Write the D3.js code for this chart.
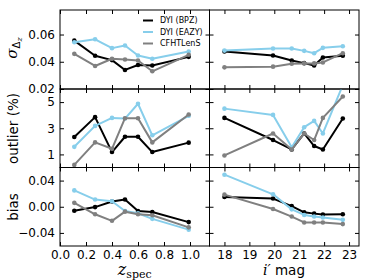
<!DOCTYPE html>
<html>
<head>
<meta charset="utf-8">
<script src="https://cdn.jsdelivr.net/npm/d3@7"></script>
<style>
  body { margin: 0; background: #fff; }
  text { font-family: "DejaVu Sans", sans-serif; }
</style>
</head>
<body>
<svg width="374" height="280"></svg>
<script>
// bin centres
const zspec = [0.11, 0.27, 0.40, 0.50, 0.60, 0.71, 0.99]
const imag = [18.0, 19.95, 20.7, 21.2, 21.6, 21.95, 22.75]

const seriesNames = ["DYI (BPZ)", "DYI (EAZY)", "CFHTLenS"]

// sigma_dz vs z_spec
const sigZBpz  = [0.0555, 0.0444, 0.0412, 0.0340, 0.0376, 0.0373, 0.0436]
const sigZEazy = [0.0543, 0.0565, 0.0500, 0.0519, 0.0446, 0.0422, 0.0475]
const sigZCfht = [0.0458, 0.0369, 0.0422, 0.0417, 0.0409, 0.0330, 0.0451]
// sigma_dz vs i' mag
const sigMBpz  = [0.0475, 0.0446, 0.0409, 0.0390, 0.0373, 0.0431, 0.0444]
const sigMEazy = [0.0482, 0.0497, 0.0497, 0.0480, 0.0463, 0.0502, 0.0514]
const sigMCfht = [0.0359, 0.0364, 0.0385, 0.0388, 0.0388, 0.0395, 0.0463]

// outlier fraction (%)
const outZBpz  = [2.33, 3.85, 1.18, 2.35, 2.35, 1.18, 1.90]
const outZEazy = [1.58, 3.18, 3.79, 3.74, 4.87, 2.46, 3.95]
const outZCfht = [0.20, 1.92, 1.43, 3.77, 3.77, 1.92, 4.05]
const outMBpz  = [3.79, 2.10, 1.38, 2.60, 1.64, 1.38, 3.74]
const outMEazy = [4.50, 4.02, 1.54, 3.08, 3.56, 2.60, 6.30]
const outMCfht = [0.92, 2.60, 1.38, 2.60, 2.10, 3.79, 5.43]

// bias
const biasZBpz  = [-0.0060, -0.0005, 0.0080, 0.0110, -0.0065, -0.0080, -0.0235]
const biasZEazy = [0.0250, 0.0110, 0.0085, -0.0065, -0.0100, -0.0185, -0.0350]
const biasZCfht = [0.0060, -0.0115, -0.0215, -0.0075, -0.0115, -0.0130, -0.0315]
const biasMBpz  = [0.0150, 0.0125, 0.0010, -0.0085, -0.0105, -0.0120, -0.0115]
const biasMEazy = [0.0490, 0.0190, -0.0040, -0.0125, -0.0150, -0.0165, -0.0200]
const biasMCfht = [0.0185, -0.0035, -0.0150, -0.0240, -0.0240, -0.0240, -0.0265]

// ticks
const zTicks = [0.0, 0.2, 0.4, 0.6, 0.8, 1.0]
const magTicks = [18, 19, 20, 21, 22, 23]
const sigTicks = [0.02, 0.04, 0.06]
const outTicks = [1, 3, 5]
const biasTicks = [-0.04, 0.00, 0.04]

const colors = ["#000000", "#87ceeb", "#808080"]

const svg = d3.select("svg")

const xL = d3.scaleLinear().domain([0, 1.15]).range([60, 209.5])
const xR = d3.scaleLinear().domain([17.4, 23.4]).range([209.5, 359])

const rows = [
  { y: d3.scaleLinear().domain([0.02, 0.078]).range([89, 10]), ticks: sigTicks, fmt: d3.format(".2f"),
    left: [sigZBpz, sigZEazy, sigZCfht], right: [sigMBpz, sigMEazy, sigMCfht] },
  { y: d3.scaleLinear().domain([0, 6]).range([167.5, 89]), ticks: outTicks, fmt: d3.format("d"),
    left: [outZBpz, outZEazy, outZCfht], right: [outMBpz, outMEazy, outMCfht] },
  { y: d3.scaleLinear().domain([-0.06, 0.06]).range([246, 167.5]), ticks: biasTicks, fmt: d3.format(".2f"),
    left: [biasZBpz, biasZEazy, biasZCfht], right: [biasMBpz, biasMEazy, biasMCfht] }
]

const cols = [
  { x: xL, xs: zspec, ticks: zTicks, fmt: d3.format(".1f"), key: "left" },
  { x: xR, xs: imag, ticks: magTicks, fmt: d3.format("d"), key: "right" }
]

function styleAxis(g) {
  g.select(".domain").remove()
  g.selectAll(".tick line").attr("stroke", "#000")
  g.selectAll(".tick text").attr("font-size", 12).attr("fill", "#000")
    .attr("font-family", "DejaVu Sans, sans-serif")
}

let clipId = 0
rows.forEach((row, ri) => {
  cols.forEach((col, ci) => {
    const [x0, x1] = col.x.range()
    const [y1, y0] = row.y.range()
    const id = "clip" + (clipId++)
    svg.append("clipPath").attr("id", id)
      .append("rect").attr("x", x0).attr("y", y0).attr("width", x1 - x0).attr("height", y1 - y0)

    const plot = svg.append("g").attr("clip-path", `url(#${id})`)
    row[col.key].forEach((vals, si) => {
      const pts = vals.map((v, i) => [col.x(col.xs[i]), row.y(v)])
      plot.append("path")
        .attr("d", d3.line()(pts))
        .attr("fill", "none")
        .attr("stroke", colors[si])
        .attr("stroke-width", 2)
        .attr("stroke-linejoin", "round")
      plot.selectAll(null).data(pts).enter().append("circle")
        .attr("cx", d => d[0]).attr("cy", d => d[1]).attr("r", 2.3)
        .attr("fill", colors[si])
    })

    // inward ticks on every side
    svg.append("g").attr("transform", `translate(${x0},0)`)
      .call(d3.axisLeft(row.y).tickValues(row.ticks).tickSizeInner(-4).tickSizeOuter(0).tickPadding(5)
        .tickFormat(ci === 0 ? row.fmt : ""))
      .call(styleAxis)
    svg.append("g").attr("transform", `translate(${x1},0)`)
      .call(d3.axisRight(row.y).tickValues(row.ticks).tickSizeInner(-4).tickSizeOuter(0).tickFormat(""))
      .call(styleAxis)
    svg.append("g").attr("transform", `translate(0,${y0})`)
      .call(d3.axisTop(col.x).tickValues(col.ticks).tickSizeInner(-4).tickSizeOuter(0).tickFormat(""))
      .call(styleAxis)
    svg.append("g").attr("transform", `translate(0,${y1})`)
      .call(d3.axisBottom(col.x).tickValues(col.ticks).tickSizeInner(-4).tickSizeOuter(0).tickPadding(4)
        .tickFormat(ri === 2 ? col.fmt : ""))
      .call(styleAxis)

    svg.append("rect").attr("x", x0).attr("y", y0).attr("width", x1 - x0).attr("height", y1 - y0)
      .attr("fill", "none").attr("stroke", "#000").attr("stroke-width", 1)
  })
})

// legend
const legend = svg.append("g")
seriesNames.forEach((name, i) => {
  const ly = 20.5 + i * 11.5
  legend.append("line").attr("x1", 143).attr("x2", 153).attr("y1", ly).attr("y2", ly)
    .attr("stroke", colors[i]).attr("stroke-width", 2)
  legend.append("text").attr("x", 160).attr("y", ly).attr("dy", "0.35em")
    .attr("font-size", 8).text(name)
})

// y labels
const sig = svg.append("text").attr("transform", "translate(17,48) rotate(-90)")
  .attr("text-anchor", "middle")
sig.append("tspan").attr("font-family", "DejaVu Serif, serif").attr("font-style", "italic")
  .attr("font-size", 15).text("σ")
sig.append("tspan").attr("font-family", "DejaVu Sans, sans-serif").attr("font-size", 10)
  .attr("dy", 3).text("Δ")
sig.append("tspan").attr("font-family", "DejaVu Serif, serif").attr("font-style", "italic")
  .attr("font-size", 8).attr("dy", 2).text("z")

svg.append("text").attr("transform", "translate(17.5,128.5) rotate(-90)")
  .attr("text-anchor", "middle").attr("font-size", 13.5).text("outlier (%)")
svg.append("text").attr("transform", "translate(17.5,207) rotate(-90)")
  .attr("text-anchor", "middle").attr("font-size", 13.5).text("bias")

// x labels
const zl = svg.append("text").attr("x", 134.7).attr("y", 275).attr("text-anchor", "middle")
zl.append("tspan").attr("font-family", "DejaVu Serif, serif").attr("font-style", "italic")
  .attr("font-size", 16).text("z")
zl.append("tspan").attr("font-family", "DejaVu Serif, serif").attr("font-size", 11)
  .attr("dy", 3).text("spec")

const ml = svg.append("text").attr("x", 284).attr("y", 275).attr("text-anchor", "middle")
ml.append("tspan").attr("font-family", "DejaVu Serif, serif").attr("font-style", "italic")
  .attr("font-size", 14).text("i′")
ml.append("tspan").attr("font-size", 13.5).text(" mag")
</script>
</body>
</html>
